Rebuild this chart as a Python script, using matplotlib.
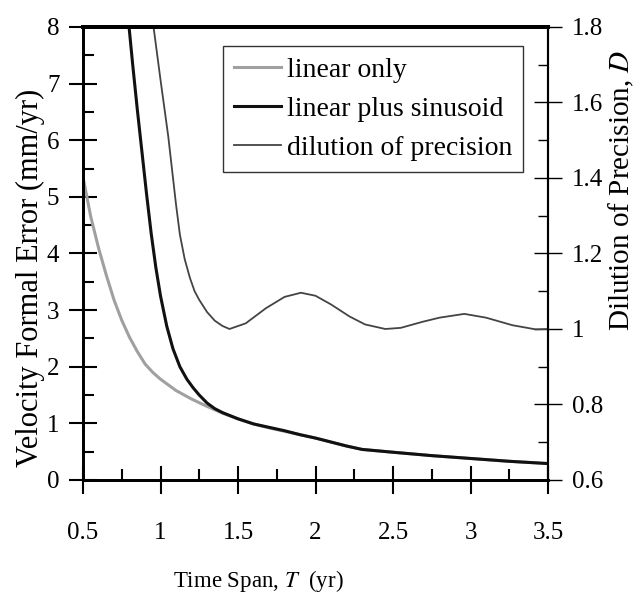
import matplotlib.pyplot as plt
from matplotlib.ticker import MultipleLocator

plt.rcParams['font.family'] = ['Liberation Serif', 'DejaVu Serif']
plt.rcParams['mathtext.fontset'] = 'stix'

# values
t_lin = [0.50, 0.55, 0.60, 0.65, 0.70, 0.75, 0.80, 0.85, 0.90, 0.95, 1.00,
         1.10, 1.20, 1.30, 1.40, 1.50, 1.60, 1.70, 1.80, 1.90, 2.00, 2.10,
         2.20, 2.30, 2.50, 2.75, 3.00, 3.25, 3.50]
err_lin = [5.35, 4.65, 4.10, 3.62, 3.18, 2.82, 2.52, 2.27, 2.05, 1.90, 1.78,
           1.58, 1.43, 1.30, 1.18, 1.08, 0.99, 0.92, 0.86, 0.80, 0.74, 0.67,
           0.60, 0.54, 0.49, 0.43, 0.38, 0.33, 0.29]

t_sin = [0.79, 0.82, 0.85, 0.88, 0.91, 0.94, 0.97, 1.00, 1.04, 1.08, 1.125,
         1.17, 1.21, 1.25, 1.30, 1.35, 1.40, 1.50, 1.60, 1.70, 1.80, 1.90,
         2.00, 2.10, 2.20, 2.30, 2.50, 2.75, 3.00, 3.25, 3.50]
err_sin = [8.20, 7.35, 6.55, 5.80, 5.05, 4.35, 3.75, 3.25, 2.72, 2.32, 2.00,
           1.78, 1.63, 1.50, 1.36, 1.26, 1.19, 1.08, 0.99, 0.93, 0.87, 0.80,
           0.74, 0.67, 0.60, 0.54, 0.49, 0.43, 0.38, 0.33, 0.29]

t_dop = [0.955, 1.00, 1.05, 1.10, 1.125, 1.156, 1.19, 1.22, 1.25, 1.30, 1.35,
         1.40, 1.445, 1.55, 1.68, 1.80, 1.906, 2.00, 2.10, 2.22, 2.32, 2.45,
         2.55, 2.69, 2.80, 2.96, 3.10, 3.27, 3.42, 3.50]
dop = [1.80, 1.66, 1.51, 1.33, 1.25, 1.185, 1.135, 1.10, 1.077, 1.045, 1.022,
       1.008, 1.00, 1.015, 1.055, 1.085, 1.096, 1.088, 1.065, 1.033, 1.012, 1.00,
       1.003, 1.019, 1.030, 1.040, 1.030, 1.010, 0.999, 1.00]

fig = plt.figure(figsize=(6.4, 5.97), dpi=100)
ax = fig.add_axes([0.1297, 0.196, 0.7266, 0.7588])
ax2 = ax.twinx()

l1, = ax.plot(t_lin, err_lin, color='#a0a0a0', lw=2.2, label='linear only')
l2, = ax.plot(t_sin, err_sin, color='#111111', lw=2.2, label='linear plus sinusoid')
l3, = ax2.plot(t_dop, dop, color='#444444', lw=1.3, label='dilution of precision')

ax.set_xlim(0.5, 3.5)
ax.set_ylim(0, 8)
ax2.set_ylim(0.6, 1.8)

ax.xaxis.set_minor_locator(MultipleLocator(0.25))
ax.yaxis.set_major_locator(MultipleLocator(1))
ax.yaxis.set_minor_locator(MultipleLocator(0.5))
ax2.yaxis.set_minor_locator(MultipleLocator(0.1))

ax.set_xticks([0.5, 1, 1.5, 2, 2.5, 3, 3.5])
ax.set_xticklabels(['0.5', '1', '1.5', '2', '2.5', '3', '3.5'])
ax2.set_yticks([0.6, 0.8, 1.0, 1.2, 1.4, 1.6, 1.8])
ax2.set_yticklabels(['0.6', '0.8', '1', '1.2', '1.4', '1.6', '1.8'])

ax.tick_params(axis='x', which='major', direction='inout', length=20, width=1.5,
               labelsize=18, pad=20, top=False)
ax.tick_params(axis='x', which='minor', direction='in', length=8, width=1.5, top=False)
ax.tick_params(axis='y', which='major', direction='inout', length=20, width=1.5,
               labelsize=18, pad=7, right=False)
ax.tick_params(axis='y', which='minor', direction='in', length=8, width=1.5, right=False)
ax2.tick_params(axis='y', which='major', direction='inout', length=20, width=1.0,
                labelsize=18, pad=7)
ax2.tick_params(axis='y', which='minor', direction='in', length=7, width=1.0)

for a in (ax, ax2):
    a.spines['top'].set_linewidth(2.8)
    a.spines['left'].set_linewidth(2.0)
    a.spines['bottom'].set_linewidth(2.0)
    a.spines['right'].set_linewidth(1.5)

ax.set_xlabel('Time Span, $\\mathit{T}$  (yr)', fontsize=16.5, labelpad=18)
ax.xaxis.set_label_coords(0.378, -0.195)
ax.set_ylabel('Velocity Formal Error (mm/yr)', fontsize=22)
ax.yaxis.set_label_coords(-0.082, 0.446)
ax2.set_ylabel('Dilution of Precision, $\\mathit{D}$', fontsize=21)
ax2.yaxis.set_label_coords(1.126, 0.64)

leg = fig.legend(handles=[l1, l2, l3], loc='upper right',
                 bbox_to_anchor=(523 / 640, 1 - 46 / 597),
                 fontsize=20, frameon=True, fancybox=False, framealpha=1,
                 edgecolor='#333333', handlelength=1.7, handletextpad=0.2,
                 borderpad=0.4, labelspacing=0.5, borderaxespad=0)
leg.get_frame().set_linewidth(1.0)

fig.savefig('out.png', dpi=100)
